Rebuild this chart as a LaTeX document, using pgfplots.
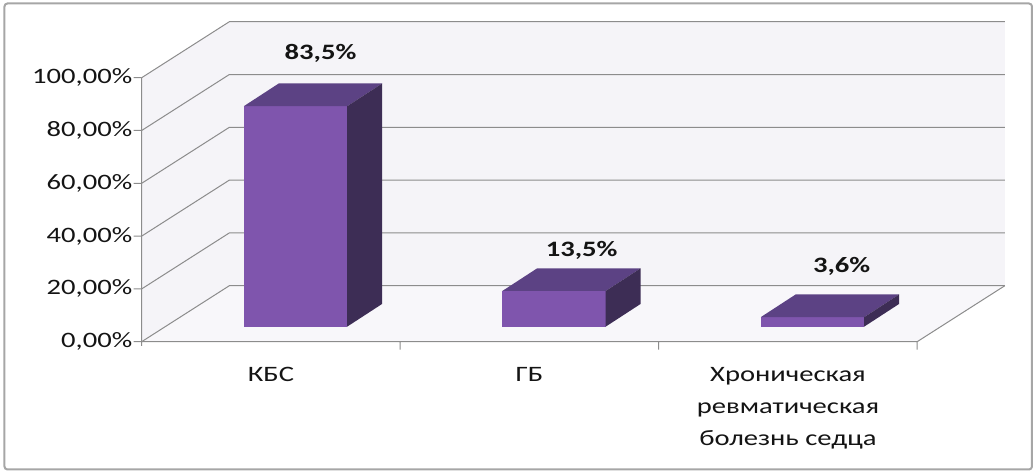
\documentclass[border=0pt]{standalone}
\usepackage{fontspec}
\setmainfont{Carlito}[FakeStretch=1.3]
\usepackage{pgfplots}
\pgfplotsset{compat=1.18}
\definecolor{wallc}{HTML}{F5F4F8}
\definecolor{gridc}{HTML}{8C8C8C}
\definecolor{barfront}{HTML}{7F55AD}
\definecolor{bartop}{HTML}{5C4284}
\definecolor{barside}{HTML}{3D2D55}
\definecolor{framec}{HTML}{A6A6A6}
\begin{document}
\begin{tikzpicture}
\begin{axis}[
  x=258.5bp, y=2.64bp,
  xmin=0, xmax=3.339, ymin=0, ymax=121.2,
  clip=false,
  axis lines*=left,
  axis line style={draw=none},
  tick style={draw=none},
  ytick={0,20,40,60,80,100},
  yticklabels={{0,00\%},{20,00\%},{40,00\%},{60,00\%},{80,00\%},{100,00\%}},
  xtick={0.5,1.5,2.5},
  xticklabels={КБС,ГБ,{Хроническая\\ревматическая\\болезнь седца}},
  tick label style={font=\fontsize{22bp}{32bp}\selectfont, text=black!92},
  xticklabel style={align=center, anchor=north, yshift=-22bp},
  yticklabel style={anchor=east, xshift=-6bp},
  unbounded coords=jump,
]
% walls and floor
\addplot[fill=wallc, draw=none, forget plot] coordinates {(0,0)(0.339,21.2)(0.339,121.2)(0,100)} --cycle;
\addplot[fill=wallc, draw=none, forget plot] coordinates {(0.339,21.2)(3.339,21.2)(3.339,121.2)(0.339,121.2)} --cycle;
\addplot[fill=wallc!70!white, draw=none, forget plot] coordinates {(0,0)(3,0)(3.339,21.2)(0.339,21.2)} --cycle;
% gridlines (left wall + back wall)
\addplot[gridc, line width=1bp, forget plot] coordinates {
 (0,0)(0.339,21.2)(3.339,21.2)(nan,nan)
 (0,20)(0.339,41.2)(3.339,41.2)(nan,nan)
 (0,40)(0.339,61.2)(3.339,61.2)(nan,nan)
 (0,60)(0.339,81.2)(3.339,81.2)(nan,nan)
 (0,80)(0.339,101.2)(3.339,101.2)(nan,nan)
 (0,100)(0.339,121.2)(3.339,121.2)
};
% front axes and floor edge
\addplot[gridc, line width=1bp, forget plot] coordinates {
 (0,100)(0,-1.6)(nan,nan)
 (0,0)(3,0)(3.339,21.2)(nan,nan)
 (-0.031,0)(0,0)(nan,nan)
 (-0.031,20)(0,20)(nan,nan)
 (-0.031,40)(0,40)(nan,nan)
 (-0.031,60)(0,60)(nan,nan)
 (-0.031,80)(0,80)(nan,nan)
 (-0.031,100)(0,100)(nan,nan)
 (1,0)(1,-3)(nan,nan)
 (2,0)(2,-3)(nan,nan)
 (3,0)(3,-3)
};
% bar 1: 83.5 %
\addplot[fill=barfront, draw=none, forget plot] coordinates {(0.395,5.7)(0.795,5.7)(0.795,89.2)(0.395,89.2)} --cycle;
\addplot[fill=bartop, draw=none, forget plot] coordinates {(0.395,89.2)(0.795,89.2)(0.930,97.8)(0.530,97.8)} --cycle;
\addplot[fill=barside, draw=none, forget plot] coordinates {(0.795,5.7)(0.930,14.3)(0.930,97.8)(0.795,89.2)} --cycle;
% bar 2: 13.5 %
\addplot[fill=barfront, draw=none, forget plot] coordinates {(1.395,5.7)(1.795,5.7)(1.795,19.2)(1.395,19.2)} --cycle;
\addplot[fill=bartop, draw=none, forget plot] coordinates {(1.395,19.2)(1.795,19.2)(1.930,27.8)(1.530,27.8)} --cycle;
\addplot[fill=barside, draw=none, forget plot] coordinates {(1.795,5.7)(1.930,14.3)(1.930,27.8)(1.795,19.2)} --cycle;
% bar 3: 3.6 %
\addplot[fill=barfront, draw=none, forget plot] coordinates {(2.395,5.7)(2.795,5.7)(2.795,9.3)(2.395,9.3)} --cycle;
\addplot[fill=bartop, draw=none, forget plot] coordinates {(2.395,9.3)(2.795,9.3)(2.930,17.9)(2.530,17.9)} --cycle;
\addplot[fill=barside, draw=none, forget plot] coordinates {(2.795,5.7)(2.930,14.3)(2.930,17.9)(2.795,9.3)} --cycle;
% value labels
\addplot[draw=none, mark=none, forget plot, point meta=explicit symbolic,
  nodes near coords, nodes near coords style={anchor=center, font=\fontsize{22bp}{26bp}\selectfont\bfseries, text=black!92}]
  table[meta=label] {
x y label
0.692 109.2 83,5\%
1.702 34.7 13,5\%
2.708 28.4 3,6\%
};
% outer frame and page extent
\draw[framec, line width=2bp, rounded corners=3bp] (axis cs:-0.5308,-48.41) rectangle (axis cs:3.4441,128.11);
\path (axis cs:-0.5482,-49.36) rectangle (axis cs:3.448,129.43);
\end{axis}
\end{tikzpicture}
\end{document}
